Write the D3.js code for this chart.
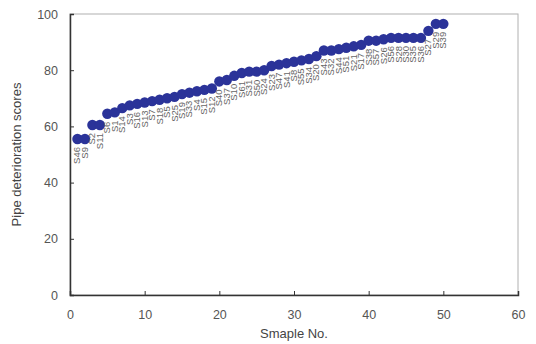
<!DOCTYPE html>
<html>
<head>
<meta charset="utf-8">
<script src="https://cdn.jsdelivr.net/npm/d3@7"></script>
<style>
  body { margin: 0; background: #fff; }
  svg { font-family: "Liberation Sans", Arial, sans-serif; }
</style>
</head>
<body>
<div id="chart"></div>
<script>
// sample ids in sorted order
const sampleIds = ['S46','S9','S2','S11','S6','S1','S14','S3','S16','S13',
    'S7','S18','S5','S25','S19','S33','S4','S15','S12','S40',
    'S37','S10','S61','S31','S50','S24','S23','S47','S41','S8',
    'S55','S34','S20','S43','S32','S44','S51','S21','S17','S38',
    'S57','S26','S56','S28','S30','S35','S36','S27','S29','S39'];
const scores = [55.5, 55.5, 60.5, 60.5, 64.5, 65, 66.5, 67.5, 68, 68.5,
    69, 69.5, 70, 70.5, 71.5, 72, 72.5, 73, 73.5, 76,
    76.5, 78, 79, 79.5, 79.5, 80, 81.5, 82, 82.5, 83,
    83.5, 84, 85, 87, 87, 87.5, 88, 88.5, 89, 90.5,
    90.5, 91, 91.5, 91.5, 91.5, 91.5, 91.5, 94, 96.5, 96.5];
const xTicks = [0, 10, 20, 30, 40, 50, 60];
const yTicks = [0, 20, 40, 60, 80, 100];

const width = 536, height = 344;
const margin = {top: 14, right: 18, bottom: 49, left: 70};
const plotW = width - margin.left - margin.right;
const plotH = height - margin.top - margin.bottom;

const svg = d3.select('#chart').append('svg')
    .attr('width', width)
    .attr('height', height);

const g = svg.append('g')
    .attr('transform', `translate(${margin.left},${margin.top})`);

const x = d3.scaleLinear().domain([0, 60]).range([0, plotW]);
const y = d3.scaleLinear().domain([0, 100]).range([plotH, 0]);

// frame
g.append('rect')
    .attr('width', plotW)
    .attr('height', plotH)
    .attr('fill', 'none')
    .attr('stroke', '#b0b0b0')
    .attr('stroke-width', 1);

let xAxis = g.append('g')
    .attr('transform', `translate(0,${plotH})`)
    .call(d3.axisBottom(x).tickValues(xTicks).tickSize(-4).tickPadding(15));
let yAxis = g.append('g')
    .call(d3.axisLeft(y).tickValues(yTicks).tickSize(-4).tickPadding(12));

[xAxis, yAxis].forEach(a => {
    a.select('.domain').attr('stroke', '#333').attr('stroke-width', 1.5);
    a.selectAll('.tick line').attr('stroke', '#333');
    a.selectAll('.tick text')
        .attr('fill', '#555')
        .style('font-size', '12.5px');
});

// points
const data = sampleIds.map((id, i) => ({id, n: i + 1, v: scores[i]}));

g.append('g').selectAll('circle')
    .data(data)
    .enter()
    .append('circle')
    .attr('cx', d => x(d.n))
    .attr('cy', d => y(d.v))
    .attr('r', 5.2)
    .attr('fill', '#2b3399');

g.append('g').selectAll('text')
    .data(data)
    .enter()
    .append('text')
    .attr('transform', d => `translate(${x(d.n) + 3},${y(d.v) + 8}) rotate(-90)`)
    .attr('text-anchor', 'end')
    .style('font-size', '9.5px')
    .attr('fill', '#666')
    .text(d => d.id);

// axis titles
svg.append('text')
    .attr('x', margin.left + plotW / 2)
    .attr('y', 338)
    .attr('text-anchor', 'middle')
    .style('font-size', '13px')
    .attr('fill', '#444')
    .text('Smaple No.');

svg.append('text')
    .attr('transform', `translate(21,${margin.top + plotH / 2}) rotate(-90)`)
    .attr('text-anchor', 'middle')
    .style('font-size', '13px')
    .attr('fill', '#444')
    .text('Pipe deterioration scores');
</script>
</body>
</html>
